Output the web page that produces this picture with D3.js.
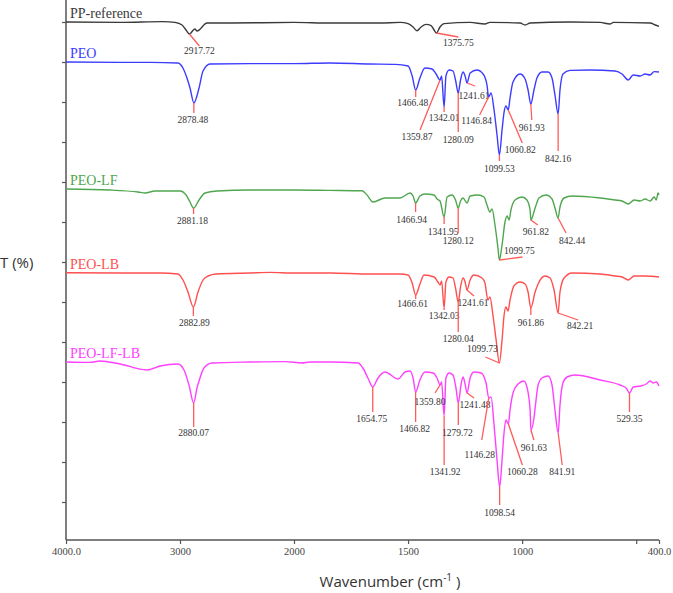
<!DOCTYPE html>
<html>
<head>
<meta charset="utf-8">
<script src="https://cdn.jsdelivr.net/npm/d3@7"></script>
<style>
  html, body { margin: 0; padding: 0; background: #fff; }
  svg { display: block; }
</style>
</head>
<body>
<svg id="chart" width="673" height="593"></svg>
<script>
// ---------------- DATA ----------------
const seriesNames = ["PP-reference", "PEO", "PEO-LF", "PEO-LB", "PEO-LF-LB"];

// [wavenumber (cm-1), stacked transmittance (a.u.)]
const ppRef = [[4000,130],[3526,129.9],[3149,130.1],[3044,129.9],[2982,129.25],[2947,128],[2917.72,127],[2870,128.25],[2850,127.75],[2763,129.75],[2561,129.75],[2000,129.9],[1842,129.75],[1623,129.75],[1535,129.9],[1500,129.6],[1478,128.75],[1461,127.8],[1443,128.75],[1421,129.4],[1399,129.1],[1386,128],[1375.75,127.25],[1360,128.75],[1342,129.6],[1228,129.9],[1163,129.5],[1141,129.9],[1009,129.75],[987,129.25],[965,129.75],[790,130],[658,129.9],[615,129.5],[600,129.9],[438,129.75],[417,129.25],[400,128.9]];

const peo = [[4000,120],[3526,119.9],[3263,119.9],[3018,119.75],[2974,118.5],[2939,116],[2912,113.5],[2878.48,109.75],[2833,113.5],[2798,117.75],[2737,119.5],[2386,119.6],[2000,119.6],[1842,119.75],[1667,119.5],[1557,119.4],[1500,119],[1482,116.5],[1466.48,113],[1448,116],[1426,118.5],[1395,118.25],[1377,117],[1359.87,115.5],[1353,116.5],[1342.01,108.75],[1334,116.5],[1320,118],[1303,117.75],[1292,115.5],[1280.09,112.25],[1270,115.5],[1259,117.5],[1250,116.5],[1241.61,114.75],[1228,117.25],[1198,118],[1171,117],[1154,114.25],[1146.84,111.25],[1136,112.25],[1123,108],[1110,101.75],[1099.53,96.75],[1088,103],[1079,107.5],[1071,109],[1060.82,108],[1053,111],[1040,115],[1009,117],[987,115.75],[974,113],[961.93,109.5],[948,113],[935,116],[913,117.5],[886,117.5],[869,116],[856,111.75],[842.16,107],[834,113],[821,117],[790,117.9],[702,118],[593,117.75],[562,117],[535,115.5],[513,116.75],[482,116.5],[461,117],[439,116.75],[421,117.6],[400,117.5]];

const peoLF = [[4000,88.25],[3614,88],[3368,87.5],[3307,87.25],[3219,87.75],[3000,87.75],[2947,86.75],[2912,85],[2881.18,83.5],[2833,85.5],[2781,87.25],[2675,87.75],[2386,88],[2000,88],[1842,87.9],[1702,87.8],[1680,86.75],[1654,85],[1601,86],[1535,86],[1491,87.25],[1478,86.5],[1466.94,84.75],[1448,86.5],[1426,87],[1386,86.75],[1373,85.75],[1360,85.25],[1341.95,81.25],[1329,86.25],[1307,86.75],[1292,85.5],[1280.12,83.5],[1270,85.25],[1259,86],[1241.6,84.75],[1228,86.5],[1193,86.75],[1167,86.25],[1154,84.25],[1141,82.5],[1132,83.25],[1119,79.25],[1106,73.5],[1099.75,70.5],[1088,74.25],[1075,80],[1066,81.5],[1057,80.5],[1049,83],[1031,85.5],[1000,86.25],[979,85.5],[965,83],[961.82,80.5],[943,83.5],[926,86],[895,86.75],[869,85.75],[856,83.5],[842.44,81],[834,83.75],[816,86],[781,86.5],[658,86],[593,85.5],[562,85.25],[535,84.5],[509,85.5],[482,85.25],[461,85.75],[439,85.25],[421,86.25],[412,85.5],[404,87.25],[400,86.75]];

const peoLB = [[4000,67.3],[3526,67.25],[3175,67.25],[3018,67],[2974,65.5],[2930,62.5],[2882.89,58.75],[2842,62.5],[2798,65.5],[2754,66.5],[2684,67],[2386,67.25],[2210,67.4],[2000,67.25],[1842,67.25],[1667,67],[1535,67],[1500,66.75],[1482,64.75],[1466.61,61.75],[1448,64.5],[1430,66.75],[1386,66.25],[1369,65],[1360,64.25],[1353,65.25],[1342.03,58.5],[1334,65],[1320,66.25],[1303,66],[1292,63.5],[1280.04,60],[1270,63.75],[1259,66],[1250,65],[1241.61,63],[1228,65.5],[1211,66.75],[1176,66],[1163,64.75],[1150,60.5],[1141,61.25],[1128,56.75],[1114,50.5],[1099.73,44.75],[1088,50.5],[1079,56.75],[1071,58.75],[1062,57.75],[1053,60.5],[1036,64],[1009,65],[987,64.5],[974,62.5],[961.86,58.5],[943,62.5],[930,64.5],[900,66.5],[878,66],[860,63],[842.21,57.25],[834,62.5],[816,66],[781,67.25],[658,67],[593,66.5],[562,66.25],[535,65.5],[509,66.5],[461,66.5],[400,66.25]];

const peoLFLB = [[4000,45],[3789,44.9],[3702,45.25],[3526,44.5],[3290,43],[3175,44],[3018,44.5],[2965,43],[2921,39.25],[2880.07,34.75],[2851,38.5],[2833,40.25],[2790,43.5],[2719,44.75],[2386,45],[2079,45.1],[1965,44.75],[1930,45],[1842,45],[1719,44.75],[1698,43.5],[1676,41],[1654.75,38.75],[1632,41],[1601,42.5],[1544,40.75],[1513,42.5],[1491,42.75],[1478,41],[1466.82,37.5],[1448,40.5],[1426,42.5],[1390,42.25],[1373,41],[1359.8,39.25],[1353,40],[1341.92,31.5],[1334,41],[1320,42.25],[1303,41.75],[1290,38.5],[1279.72,34.75],[1268,39.25],[1259,41.25],[1250,39.5],[1241.48,37.25],[1228,41],[1211,42.5],[1180,42.25],[1158,39.75],[1146.28,36],[1136,36.25],[1123,29.25],[1110,20.5],[1098.54,13.75],[1088,20.5],[1079,27.5],[1071,30.5],[1060.28,29.5],[1053,33],[1040,37.25],[1018,39.5],[992,40.25],[979,38.75],[965,33],[961.63,28],[948,31],[941,34.5],[930,39.25],[913,41],[886,41.5],[869,39.25],[856,33],[841.91,27.25],[834,34.25],[821,39.75],[803,41.25],[768,41.75],[658,40.5],[571,39.25],[544,38.5],[529.35,37.25],[513,38.75],[482,39],[456,39.5],[439,40.25],[425,39.75],[412,40],[400,39]];

// labelled peaks (cm-1)
const peaksPP     = [2917.72, 1375.75];
const peaksPEO    = [2878.48, 1466.48, 1359.87, 1342.01, 1280.09, 1241.61, 1146.84, 1099.53, 1060.82, 961.93, 842.16];
const peaksLF     = [2881.18, 1466.94, 1341.95, 1280.12, 1099.75, 961.82, 842.44];
const peaksLB     = [2882.89, 1466.61, 1342.03, 1280.04, 1241.61, 1099.73, 961.86, 842.21];
const peaksLFLB   = [2880.07, 1654.75, 1466.82, 1359.80, 1341.92, 1279.72, 1241.48, 1146.28, 1098.54, 1060.28, 961.63, 841.91, 529.35];

const xTickValues = [4000, 3000, 2000, 1500, 1000, 500, 400];
const xTickLabels = ["4000.0", "3000", "2000", "1500", "1000", "", "400.0"];
const yTickValues = [10, 20, 30, 40, 50, 60, 70, 80, 90, 100, 110, 120, 130];

// ---------------- LAYOUT / STYLE ----------------
const colors = ["#3a3a3a", "#3c3cff", "#4fa64f", "#ff5050", "#ff40ff"];
const leaderColor = "#ff5a5a";
// per peak: [text dx, text dy (centre), leader end dx, leader end dy] relative to the peak point
const layoutPP   = [[10,17,10,12],[22,10,22,4]];
const layoutPEO  = [[-1,17,0,10],[-3,13,0,7],[-23,57,-20,50],[0,11,0,5],[0,47,0,39],[7,13,8,3],[-12,24,-9,18],[0,14,0,6],[12,40,14,33],[1,24,1,16],[0,45,0,37]];
const layoutLF   = [[-1,13,0,6],[-4,17,0,9],[-1,15,0,7],[0,33,0,25],[20,-9,23,-3],[5,12,7,5],[14,23,8,15]];
const layoutLB   = [[1,16,0,9],[-3,9,0,4],[0,8,0,2],[0,37,0,30],[6,13,7,6],[-17,-14,-14,-6],[0,15,0,7],[22,13,20,7]];
const layoutLFLB = [[0,30,0,24],[-1,32,0,25],[-1,37,0,30],[-10,17,-5,8],[1,56,0,49],[-1,30,0,22],[8,12,7,5],[-9,57,-7,42],[0,26,0,18],[14,48,14,41],[3,18,3,10],[4,39,4,32],[0,26,0,19]];

const spectra = [ppRef, peo, peoLF, peoLB, peoLFLB];
const peaks = [peaksPP, peaksPEO, peaksLF, peaksLB, peaksLFLB];
const layouts = [layoutPP, layoutPEO, layoutLF, layoutLB, layoutLFLB];

// ---------------- CHART ----------------
const svg = d3.select("#chart");
const xLeft = 66, xRight = 659, yBottom = 540;

// FTIR-style axis: 2x expansion below 2000 cm-1
const x = d3.scaleLinear().domain([4000, 2000, 400]).range([xLeft, 294, xRight]);
const y = d3.scaleLinear().domain([0, 135.5]).range([542, 0]);

// y axis
const yAxis = d3.axisLeft(y).tickValues(yTickValues).tickSize(4).tickFormat("");
const gy = svg.append("g").attr("transform", `translate(${xLeft},0)`).call(yAxis);
gy.select(".domain").remove();
gy.selectAll(".tick line").attr("stroke", "#555").attr("stroke-width", 1.2);
svg.append("line").attr("x1", xLeft).attr("x2", xLeft).attr("y1", 0).attr("y2", yBottom)
  .attr("stroke", "#555").attr("stroke-width", 1.5);

// x axis
const xAxis = d3.axisBottom(x).tickValues(xTickValues).tickSize(4).tickPadding(4)
  .tickFormat((d, i) => xTickLabels[i]);
const gx = svg.append("g").attr("transform", `translate(0,${yBottom})`).call(xAxis);
gx.select(".domain").remove();
gx.selectAll(".tick line").attr("stroke", "#555").attr("stroke-width", 1.2);
gx.selectAll(".tick text").attr("font-family", "'Liberation Serif', 'DejaVu Serif', serif")
  .attr("font-size", 10.5).attr("fill", "#444");
svg.append("line").attr("x1", xLeft).attr("x2", xRight).attr("y1", yBottom).attr("y2", yBottom)
  .attr("stroke", "#555").attr("stroke-width", 1.5);

// axis titles
const xt = svg.append("text").attr("x", 390).attr("y", 587).attr("text-anchor", "middle")
  .attr("font-family", "'Open Sans', 'Liberation Sans', sans-serif").attr("font-size", 15).attr("fill", "#333");
xt.append("tspan").text("Wavenumber (cm");
xt.append("tspan").attr("font-size", 10).attr("dy", -6).text("-1");
xt.append("tspan").attr("dy", 6).text(" )");

svg.append("text").attr("x", 0).attr("y", 268)
  .attr("font-family", "'Open Sans', 'Liberation Sans', sans-serif").attr("font-size", 15).attr("fill", "#333")
  .text("T (%)");

// spectra
const line = d3.line().x(d => x(d[0])).y(d => y(d[1])).curve(d3.curveMonotoneX);
const lines = svg.append("g");
const annos = svg.append("g");

spectra.forEach((s, i) => {
  lines.append("path").datum(s).attr("d", line).attr("fill", "none")
    .attr("stroke", colors[i]).attr("stroke-width", 1.4).attr("stroke-linejoin", "round");

  // series name
  svg.append("text").attr("x", 70).attr("y", y(s[0][1]) - 4)
    .attr("font-family", "'Liberation Serif', 'DejaVu Serif', serif").attr("font-size", 14)
    .attr("fill", colors[i]).text(seriesNames[i]);

  // peak annotations
  peaks[i].forEach((p, j) => {
    const pt = s.reduce((a, b) => Math.abs(b[0] - p) < Math.abs(a[0] - p) ? b : a);
    const px = x(pt[0]), py = y(pt[1]);
    const L = layouts[i][j];
    annos.append("line").attr("x1", px).attr("y1", py).attr("x2", px + L[2]).attr("y2", py + L[3])
      .attr("stroke", leaderColor).attr("stroke-width", 1.3);
    annos.append("text").attr("x", px + L[0]).attr("y", py + L[1]).attr("dy", "0.35em")
      .attr("text-anchor", "middle")
      .attr("font-family", "'Liberation Serif', 'DejaVu Serif', serif").attr("font-size", 9.5)
      .attr("fill", "#333").text(p.toFixed(2));
  });
});
</script>
</body>
</html>
